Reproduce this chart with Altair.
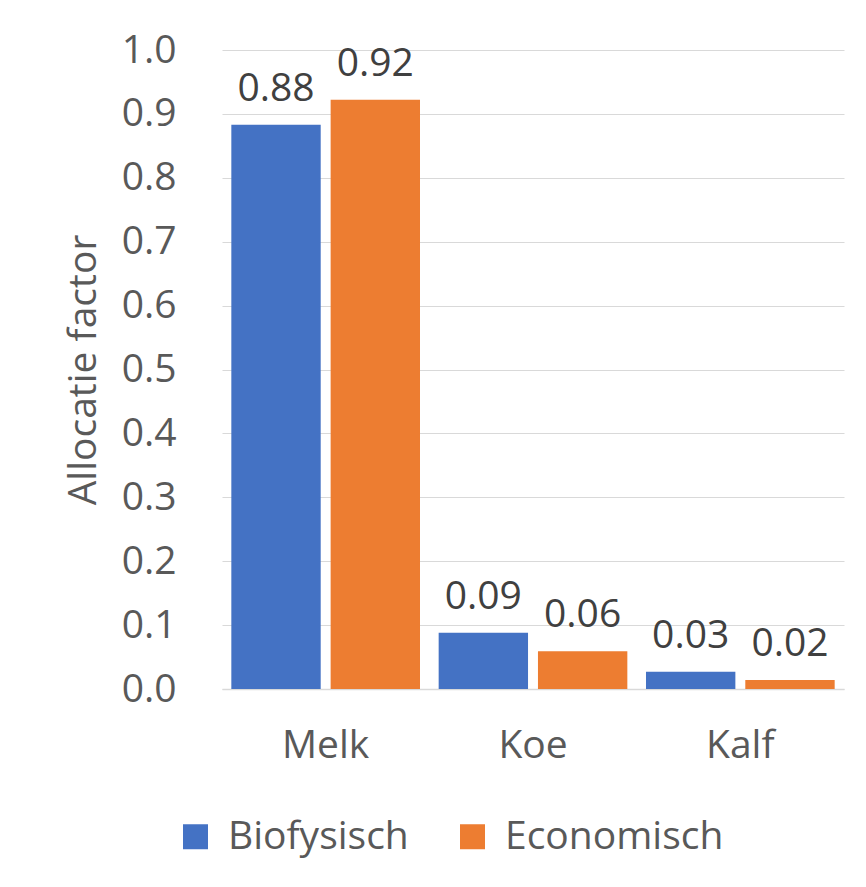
import altair as alt
import pandas as pd

categories = ["Melk", "Koe", "Kalf"]
series = ["Biofysisch", "Economisch"]
biofysisch = [0.883, 0.088, 0.027]
economisch = [0.922, 0.059, 0.014]
bio_labels = ["0.88", "0.09", "0.03"]
eco_labels = ["0.92", "0.06", "0.02"]
colors = ["#4472C4", "#ED7D31"]

rows = []
for c, v, l in zip(categories, biofysisch, bio_labels):
    rows.append({"cat": c, "serie": "Biofysisch", "val": v, "lab": l})
for c, v, l in zip(categories, economisch, eco_labels):
    rows.append({"cat": c, "serie": "Economisch", "val": v, "lab": l})
df = pd.DataFrame(rows)

FONT = "Open Sans"
TXT = "#595959"
FS = 39

x = alt.X("cat:N", sort=categories, title=None,
          scale=alt.Scale(paddingInner=0.09, paddingOuter=0.045),
          axis=alt.Axis(labelAngle=0, labelFontSize=FS, labelFont=FONT, labelColor=TXT,
                        labelPadding=37, ticks=False, domainColor="#d9d9d9", domainWidth=1.5))
xo = alt.XOffset("serie:N", sort=series, scale=alt.Scale(paddingInner=0.1))
y = alt.Y("val:Q", title="Allocatie factor",
          scale=alt.Scale(domain=[0, 1.0], nice=False),
          axis=alt.Axis(values=[i / 10 for i in range(11)], format=".1f",
                        labelFontSize=FS, labelFont=FONT, labelColor=TXT, labelPadding=46,
                        titleFontSize=FS, titleFont=FONT, titleColor=TXT, titleFontWeight="normal",
                        titlePadding=18, ticks=False, domain=False,
                        gridColor="#d9d9d9", gridWidth=1.2))

color = alt.Color("serie:N", sort=series, title=None,
                  scale=alt.Scale(domain=series, range=colors),
                  legend=alt.Legend(orient="none", legendX=-46, legendY=767, direction="horizontal",
                                    symbolType="square", symbolSize=625, symbolStrokeWidth=0,
                                    labelFontSize=FS, labelFont=FONT, labelColor=TXT, labelLimit=400,
                                    columnPadding=44, labelOffset=13))

base = alt.Chart(df).encode(x=x, xOffset=xo, y=y)
bars = base.mark_bar().encode(color=color)
labels = base.mark_text(baseline="alphabetic", dy=-24, fontSize=FS, font=FONT, color="#404040").encode(text="lab:N")

chart = alt.layer(bars, labels).properties(
    width=622, height=639,
    autosize=alt.AutoSizeParams(type="none"),
    padding={"left": 214, "top": 42, "right": 14, "bottom": 190},
    background="white",
).configure_view(stroke=None)

chart.save("out.html", embed_options={"renderer": "svg", "actions": False})
